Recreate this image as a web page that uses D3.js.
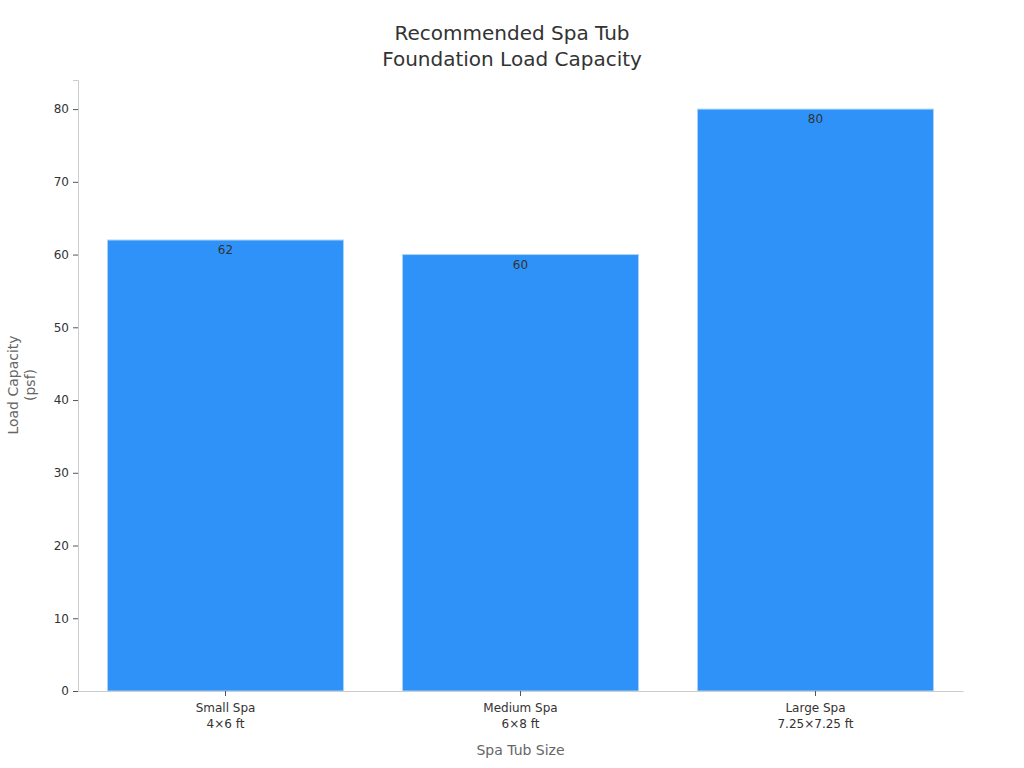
<!DOCTYPE html>
<html>
<head>
<meta charset="utf-8">
<script src="https://cdn.jsdelivr.net/npm/d3@7"></script>
<style>
  body { margin: 0; background: #fff; }
  text { font-family: "DejaVu Sans", sans-serif; }
</style>
</head>
<body>
<svg id="chart" width="1024" height="768"></svg>
<script>
// chart data
const categories = ['Small Spa\n4×6 ft', 'Medium Spa\n6×8 ft', 'Large Spa\n7.25×7.25 ft'];
const loadValues = [62, 60, 80];
const yTicks = [0, 10, 20, 30, 40, 50, 60, 70, 80];

const svg = d3.select('#chart');
const plotLeft = 78, plotRight = 963, plotTop = 80, plotBottom = 691;

const x = d3.scaleBand()
  .domain(categories)
  .range([plotLeft, plotRight])
  .paddingInner(0.2)
  .paddingOuter(0.1);

const y = d3.scaleLinear()
  .domain([0, 84])
  .range([plotBottom, plotTop]);

// title
const title = svg.append('text')
  .attr('x', 512)
  .attr('y', 40)
  .attr('text-anchor', 'middle')
  .attr('fill', '#333')
  .style('font-size', '20px');
title.append('tspan').attr('x', 512).text('Recommended Spa Tub');
title.append('tspan').attr('x', 512).attr('dy', 26).text('Foundation Load Capacity');

// bars
svg.selectAll('.bar')
  .data(loadValues)
  .enter()
  .append('rect')
  .attr('class', 'bar')
  .attr('x', (d, i) => x(categories[i]))
  .attr('y', d => y(d))
  .attr('width', x.bandwidth())
  .attr('height', d => y(0) - y(d))
  .attr('fill', '#2e92f8')
  .attr('stroke', '#a9d3fb')
  .attr('stroke-width', 1);

// value labels
svg.selectAll('.value-label')
  .data(loadValues)
  .enter()
  .append('text')
  .attr('class', 'value-label')
  .attr('x', (d, i) => x(categories[i]) + x.bandwidth() / 2)
  .attr('y', d => y(d) + 14)
  .attr('text-anchor', 'middle')
  .attr('fill', '#333')
  .style('font-size', '12px')
  .text(d => d);

// y axis
const yAxis = svg.append('g')
  .attr('transform', `translate(${plotLeft},0)`)
  .call(d3.axisLeft(y).tickValues(yTicks).tickSize(5).tickPadding(4));
yAxis.select('.domain').attr('stroke', '#ccc');
yAxis.selectAll('.tick line').attr('stroke', '#555');
yAxis.selectAll('.tick text')
  .attr('fill', '#333')
  .style('font-size', '12px')
  .style('font-family', '"DejaVu Sans", sans-serif');

// x axis
const xAxis = svg.append('g')
  .attr('transform', `translate(0,${plotBottom})`)
  .call(d3.axisBottom(x).tickSize(5).tickSizeOuter(0).tickPadding(7));
xAxis.select('.domain').attr('stroke', '#ccc');
xAxis.selectAll('.tick line').attr('stroke', '#555');
xAxis.selectAll('.tick text')
  .attr('fill', '#333')
  .style('font-size', '12px')
  .style('font-family', '"DejaVu Sans", sans-serif')
  .each(function (d) {
    const t = d3.select(this);
    const lines = d.split('\n');
    t.text(null);
    lines.forEach((line, i) => {
      t.append('tspan')
        .attr('x', 0)
        .attr('dy', i === 0 ? '0.71em' : '1.35em')
        .text(line);
    });
  });

// axis titles
svg.append('text')
  .attr('x', (plotLeft + plotRight) / 2)
  .attr('y', 755)
  .attr('text-anchor', 'middle')
  .attr('fill', '#666')
  .style('font-size', '14px')
  .text('Spa Tub Size');

const yTitle = svg.append('text')
  .attr('transform', 'translate(18,385) rotate(-90)')
  .attr('text-anchor', 'middle')
  .attr('fill', '#666')
  .style('font-size', '14px');
yTitle.append('tspan').attr('x', 0).attr('dy', 0).text('Load Capacity');
yTitle.append('tspan').attr('x', 0).attr('dy', 17).text('(psf)');
</script>
</body>
</html>
